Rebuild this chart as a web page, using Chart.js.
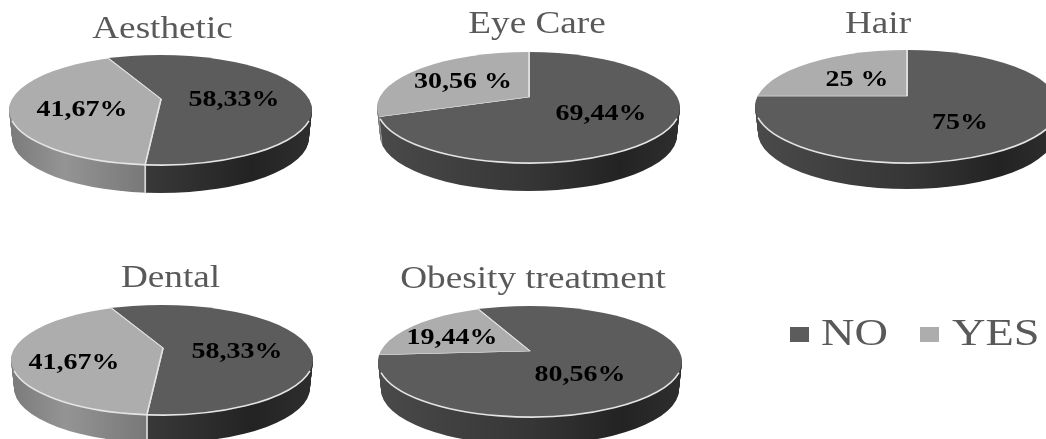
<!DOCTYPE html>
<html>
<head>
<meta charset="utf-8">
<title>Treatment pies</title>
<script src="https://cdn.jsdelivr.net/npm/chart.js@4"></script>
<style>
    html, body { margin: 0; padding: 0; background: #fff; overflow: hidden; }
    #stage { position: relative; width: 1046px; height: 439px; overflow: hidden; }
    #stage canvas { position: absolute; left: 0; top: 0; }
    .swatch { position: absolute; width: 19px; height: 15px; top: 327px; }
    .legendText {
        position: absolute; top: 311px; font: 38px "Liberation Serif", serif; color: #595959;
        line-height: 42px; transform: scaleX(1.22); transform-origin: left top;
    }
</style>
</head>
<body>
<div id="stage"></div>
<script>
const categories = ["NO", "YES"];
const titles = ["Aesthetic", "Eye Care", "Hair", "Dental", "Obesity treatment"];
const noValues = [58.33, 69.44, 75, 58.33, 80.56];
const yesValues = [41.67, 30.56, 25, 41.67, 19.44];
const noLabels = ["58,33%", "69,44%", "75%", "58,33%", "80,56%"];
const yesLabels = ["41,67%", "30,56 %", "25 %", "41,67%", "19,44%"];
const rotations = [-25, 0, 0, -25, -24];

const noColor = "#5c5c5c";
const yesColor = "#adadad";
const edgeColor = "#e4e4e4";
const squash = 0.36;   // vertical flattening of the pies

// top face ellipse, slice apex and wall height for each pie
const faces = [
    { cx: 160.5, cy: 110, rx: 151.5, ry: 55, ax: 161, ay: 99, depth: 28 },
    { cx: 528.5, cy: 107.5, rx: 151.5, ry: 55.5, ax: 529, ay: 97, depth: 28 },
    { cx: 907, cy: 106.5, rx: 152, ry: 56.5, ax: 907, ay: 96, depth: 26 },
    { cx: 162, cy: 360, rx: 151, ry: 55, ax: 163, ay: 348, depth: 28 },
    { cx: 530, cy: 361.5, rx: 152, ry: 55.5, ax: 530, ay: 351, depth: 28 }
];
const titleSpots = [[162.5, 38], [537, 33], [878, 33], [170.5, 287], [533, 288]];
const noSpots = [[234, 100], [601, 114], [960, 123], [237, 352], [580, 375]];
const yesSpots = [[82, 110], [463, 82], [857, 80], [74, 363], [452, 338]];

function wallGradient(ctx, fromX, toX, stops) {
    let grad = ctx.createLinearGradient(fromX, 0, toX, 0);
    stops.forEach(s => grad.addColorStop(s[0], s[1]));
    return grad;
}

function stretchedText(ctx, text, x, y, font, color, baseline, sx) {
    ctx.save();
    ctx.font = font;
    ctx.fillStyle = color;
    ctx.textAlign = "center";
    ctx.textBaseline = baseline;
    ctx.translate(x, y);
    ctx.scale(sx, 1);
    ctx.fillText(text, 0, 0);
    ctx.restore();
}

// moves the drawing space so that the arcs land on a flattened face, offset d px downwards
function enterFace(ctx, el, face, d) {
    let shrink = 3 * d / face.depth;
    ctx.save();
    ctx.beginPath();
    ctx.ellipse(face.cx, face.cy + d, face.rx - shrink, face.ry, 0, 0, Math.PI * 2);
    ctx.clip();
    ctx.translate(face.ax, face.ay + d);
    ctx.scale(1, squash);
    ctx.translate(-el.x, -el.y);
}

function makePie(i) {
    let canvas = document.createElement("canvas");
    canvas.width = 1046;
    canvas.height = 439;
    document.getElementById("stage").appendChild(canvas);
    let face = faces[i];

    let pie3d = {
        id: "pie3d",
        beforeDatasetDraw(chart, args) {
            let ctx = chart.ctx;
            let arcs = args.meta.data;
            let shiftX = arcs[0].x - face.ax;
            let left = face.cx - face.rx + shiftX;
            let right = face.cx + face.rx + shiftX;
            let fills = [
                wallGradient(ctx, left, right, [[0, "#4a4a4a"], [0.5, "#363636"], [0.8, "#232323"], [1, "#2e2e2e"]]),
                wallGradient(ctx, left, right, [[0, "#7a7a7a"], [0.18, "#949494"], [0.46, "#777777"], [1, "#666666"]])
            ];
            // side wall: the same arcs repeated from the bottom edge upwards
            for (let d = face.depth; d > 0; d--) {
                enterFace(ctx, arcs[0], face, d);
                arcs.forEach((arc, k) => {
                    let saved = arc.options;
                    arc.options = { ...saved, backgroundColor: fills[k] };
                    arc.draw(ctx);
                    arc.options = saved;
                });
                ctx.restore();
            }
            enterFace(ctx, arcs[0], face, 0);
        },
        afterDatasetDraw(chart) {
            let ctx = chart.ctx;
            ctx.restore();
            // light rim along the front of the top face
            ctx.save();
            ctx.beginPath();
            ctx.ellipse(face.cx, face.cy, face.rx, face.ry, 0, 0.2, Math.PI - 0.2);
            ctx.strokeStyle = edgeColor;
            ctx.lineWidth = 1.6;
            ctx.stroke();
            ctx.restore();
        },
        afterDraw(chart) {
            let ctx = chart.ctx;
            let labelFont = "bold 24px 'Liberation Serif', serif";
            stretchedText(ctx, titles[i], titleSpots[i][0], titleSpots[i][1], "31px 'Liberation Serif', serif", "#595959", "alphabetic", 1.2);
            stretchedText(ctx, noLabels[i], noSpots[i][0], noSpots[i][1], labelFont, "#000", "middle", 1.165);
            stretchedText(ctx, yesLabels[i], yesSpots[i][0], yesSpots[i][1], labelFont, "#000", "middle", 1.165);
        }
    };

    return new Chart(canvas, {
        type: "pie",
        data: {
            labels: categories,
            datasets: [{
                data: [noValues[i], yesValues[i]],
                backgroundColor: [noColor, yesColor],
                borderColor: edgeColor,
                borderWidth: 1.6,
                clip: false
            }]
        },
        options: {
            responsive: false,
            animation: false,
            events: [],
            radius: 240,
            rotation: rotations[i],
            plugins: {
                legend: { display: false },
                tooltip: { enabled: false }
            }
        },
        plugins: [pie3d]
    });
}

titles.forEach((t, i) => makePie(i));

// legend squares and captions
let stage = document.getElementById("stage");
[[790, 821, noColor], [920, 952, yesColor]].forEach((spot, i) => {
    let swatch = document.createElement("div");
    swatch.className = "swatch";
    swatch.style.left = spot[0] + "px";
    swatch.style.background = spot[2];
    stage.appendChild(swatch);
    let caption = document.createElement("div");
    caption.className = "legendText";
    caption.style.left = spot[1] + "px";
    caption.textContent = categories[i];
    stage.appendChild(caption);
});
</script>
</body>
</html>
